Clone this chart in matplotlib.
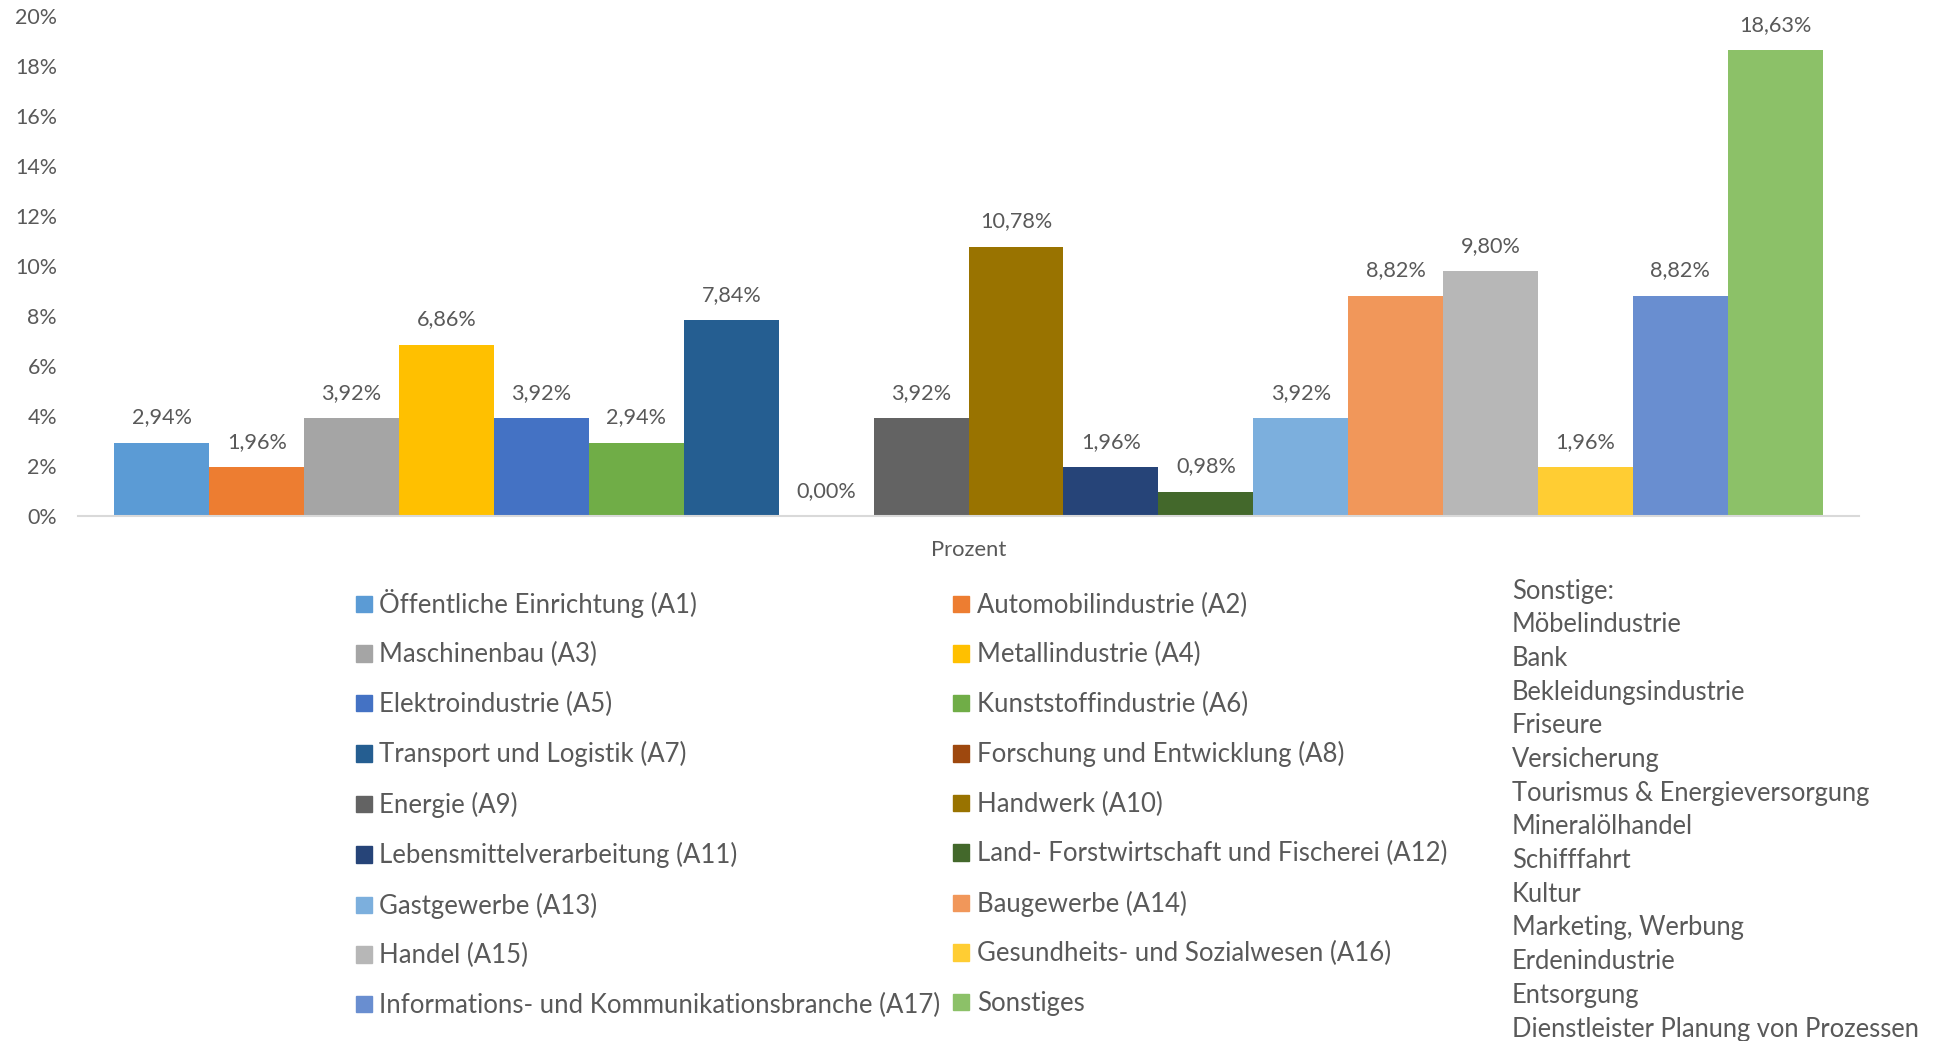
import numpy as np
import matplotlib.pyplot as plt
from matplotlib.patches import Patch

plt.rcParams['font.family'] = ['Lato', 'DejaVu Sans']

branchen = ['Öffentliche Einrichtung (A1)', 'Automobilindustrie (A2)',
            'Maschinenbau (A3)', 'Metallindustrie (A4)',
            'Elektroindustrie (A5)', 'Kunststoffindustrie (A6)',
            'Transport und Logistik (A7)', 'Forschung und Entwicklung (A8)',
            'Energie (A9)', 'Handwerk (A10)',
            'Lebensmittelverarbeitung (A11)', 'Land- Forstwirtschaft und Fischerei (A12)',
            'Gastgewerbe (A13)', 'Baugewerbe (A14)',
            'Handel (A15)', 'Gesundheits- und Sozialwesen (A16)',
            'Informations- und Kommunikationsbranche (A17)', 'Sonstiges']
prozent = [2.94, 1.96, 3.92, 6.86, 3.92, 2.94, 7.84, 0.00, 3.92,
           10.78, 1.96, 0.98, 3.92, 8.82, 9.80, 1.96, 8.82, 18.63]
farben = ['#5B9BD5', '#ED7D31', '#A5A5A5', '#FFC000', '#4472C4', '#70AD47',
          '#255E91', '#9E480E', '#636363', '#997300', '#264478', '#43682B',
          '#7CAFDD', '#F1975A', '#B7B7B7', '#FFCD33', '#698ED0', '#8CC168']
sonstige = ['Sonstige:', 'Möbelindustrie', 'Bank', 'Bekleidungsindustrie',
            'Friseure', 'Versicherung', 'Tourismus & Energieversorgung',
            'Mineralölhandel', 'Schifffahrt', 'Kultur', 'Marketing, Werbung',
            'Erdenindustrie', 'Entsorgung', 'Dienstleister Planung von Prozessen']
kategorie = 'Prozent'

grau = '#595959'
fig = plt.figure(figsize=(19.34, 10.41), dpi=100)
ax = fig.add_axes([0.0403, 0.5043, 0.921, 0.4803])

n = len(prozent)
x = np.arange(n) - (n - 1) / 2
bars = ax.bar(x, prozent, width=1.0, color=farben)
for xi, v in zip(x, prozent):
    ax.annotate(f'{v:.2f}%'.replace('.', ','), (xi, v), xytext=(0, 18),
                textcoords='offset points', ha='center', va='center',
                fontsize=15.6, color=grau)

ax.set_xlim(-n / 2 - 0.383, n / 2 + 0.383)
ax.set_ylim(0, 20)
ax.set_yticks(np.arange(0, 21, 2))
ax.set_yticklabels([f'{t}%' for t in range(0, 21, 2)])
ax.tick_params(axis='y', length=0, labelsize=15.4, labelcolor=grau, pad=15)
ax.set_xticks([0])
ax.set_xticklabels([kategorie])
ax.tick_params(axis='x', length=0, labelsize=15.8, labelcolor=grau, pad=17)
for s in ['top', 'right', 'left']:
    ax.spines[s].set_visible(False)
ax.spines['bottom'].set_color('#D9D9D9')
ax.spines['bottom'].set_linewidth(1.5)

# Legende zeilenweise wie im Original
reihenfolge = list(range(0, n, 2)) + list(range(1, n, 2))
handles = [Patch(color=farben[i]) for i in reihenfolge]
labels = [branchen[i] for i in reihenfolge]
fig.legend(handles, labels, ncol=2, loc='upper left',
           bbox_to_anchor=(0.172, 0.4565), frameon=False, fontsize=18.5,
           handlelength=0.62, handleheight=0.62, handletextpad=0.3,
           labelspacing=0.95, columnspacing=0.49, labelcolor=grau)

for k, t in enumerate(sonstige):
    fig.text(1512 / 1934, 1 - (591 + k * 33.7) / 1041, t, fontsize=18.4,
             color=grau, va='center', ha='left')

fig.savefig('out.png', dpi=100)
